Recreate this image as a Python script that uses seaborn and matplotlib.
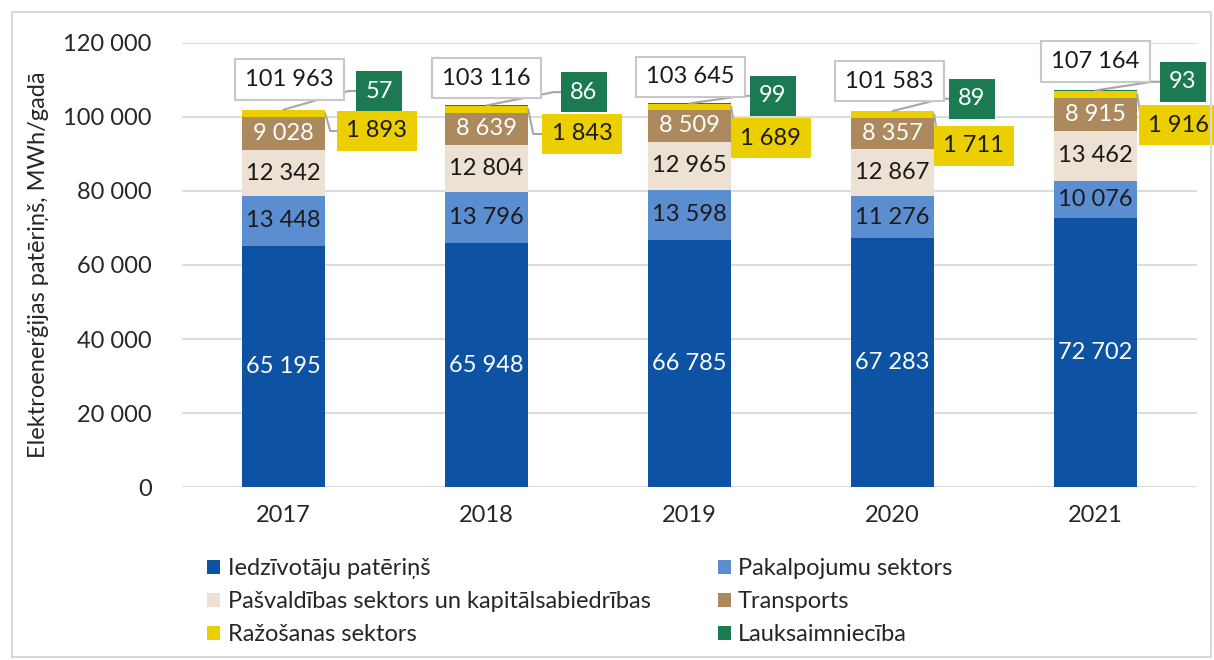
import matplotlib
matplotlib.use("Agg")
import matplotlib.pyplot as plt
from matplotlib.patches import Patch, Rectangle
import numpy as np
import seaborn as sns

# --- data ---
years = ["2017", "2018", "2019", "2020", "2021"]
iedzivotaji = [65195, 65948, 66785, 67283, 72702]
pakalpojumi = [13448, 13796, 13598, 11276, 10076]
pasvaldibas = [12342, 12804, 12965, 12867, 13462]
transports = [9028, 8639, 8509, 8357, 8915]
razosana = [1893, 1843, 1689, 1711, 1916]
lauksaimnieciba = [57, 86, 99, 89, 93]

names = ["Iedzīvotāju patēriņš", "Pakalpojumu sektors",
         "Pašvaldības sektors un kapitālsabiedrības", "Transports",
         "Ražošanas sektors", "Lauksaimniecība"]
colors = ["#0d52a3", "#5b8ed0", "#ede1d4", "#ad8a5e", "#eccf00", "#1b7a52"]
text_colors = ["white", "#1a1a1a", "#1a1a1a", "white"]

# callout label placement (x offset in category units, y in data units)
tot_dx = [0.03, 0.0, 0.005, -0.015, 0.0]
tot_y = [110000, 110500, 110800, 109700, 114900]
grn_dx = [0.47, 0.48, 0.41, 0.39, 0.43]
grn_y = [107000, 106700, 105700, 104900, 109500]
yel_dx = [0.46, 0.47, 0.40, 0.40, 0.41]
yel_y = [96200, 95400, 94300, 92200, 97800]

layers = np.array([iedzivotaji, pakalpojumi, pasvaldibas, transports,
                   razosana, lauksaimnieciba], dtype=float)
cum = layers.cumsum(axis=0)
totals = cum[-1]

def fmt(v):
    return f"{v:,.0f}".replace(",", " ")

sns.set_theme(style="white")
plt.rcParams["font.family"] = ["Lato", "DejaVu Sans"]
FS = 17

fig = plt.figure(figsize=(12.14, 6.6), dpi=100)
ax = fig.add_axes([0.150, 0.262, 0.836, 0.673])

# stacked bars: draw cumulative heights from the top layer down
for k in range(len(names) - 1, -1, -1):
    sns.barplot(x=years, y=cum[k], color=colors[k], width=0.41,
                saturation=1, linewidth=0, edgecolor="none", ax=ax, zorder=2)

ax.set_ylim(0, 120000)
ax.set_xlim(-0.5, 4.5)
ax.set_yticks(np.arange(0, 120001, 20000))
ax.set_yticklabels([fmt(v) for v in np.arange(0, 120001, 20000)], fontsize=FS)
ax.tick_params(axis="x", labelsize=FS, pad=13, length=0)
ax.tick_params(axis="y", pad=22, length=0)
ax.grid(axis="y", color="#d9d9d9", lw=1.3)
ax.set_axisbelow(True)
for s in ax.spines.values():
    s.set_visible(False)
ax.set_xlabel("")
ax.set_ylabel("Elektroenerģijas patēriņš, MWh/gadā", fontsize=FS, labelpad=10)

# labels inside the four big segments
for k in range(4):
    for i in range(len(years)):
        yc = cum[k][i] - layers[k][i] / 2
        ax.text(i, yc, fmt(layers[k][i]), ha="center", va="center",
                fontsize=FS, color=text_colors[k], zorder=4)

line_c = "#a6a6a6"
for i in range(len(years)):
    top = totals[i]
    # total
    ax.text(i + tot_dx[i], tot_y[i], fmt(top), ha="center", va="center",
            fontsize=FS, color="#1a1a1a", zorder=5,
            bbox=dict(boxstyle="square,pad=0.42", fc="white", ec="#c8c8c8", lw=1.5))
    # green callout + leader
    gx = i + grn_dx[i]
    ax.plot([i, gx - 0.15, gx - 0.1], [top, grn_y[i], grn_y[i]],
            color=line_c, lw=1.5, zorder=3)
    ax.text(gx, grn_y[i], fmt(lauksaimnieciba[i]), ha="center", va="center",
            fontsize=FS, color="white", zorder=5,
            bbox=dict(boxstyle="square,pad=0.4", fc=colors[5], ec="none"))
    # yellow callout + leader
    yx = i + yel_dx[i]
    ys = cum[3][i] + razosana[i] / 2
    ax.plot([i + 0.205, i + 0.23, yx - 0.15], [ys, yel_y[i], yel_y[i]],
            color=line_c, lw=1.5, zorder=3)
    ax.text(yx, yel_y[i], fmt(razosana[i]), ha="center", va="center",
            fontsize=FS, color="#1a1a1a", zorder=5,
            bbox=dict(boxstyle="square,pad=0.4", fc=colors[4], ec="none"))

# legend, row-major as in the original
handles = [Patch(facecolor=c, edgecolor="none") for c in colors]
order = [0, 2, 4, 1, 3, 5]
fig.legend([handles[j] for j in order], [names[j] for j in order],
           loc="upper left", bbox_to_anchor=(198 / 1214, 1 - 549 / 660),
           ncol=2, frameon=False, fontsize=FS, handlelength=0.55,
           handleheight=0.55, handletextpad=0.3, labelspacing=0.5,
           columnspacing=2.85, borderaxespad=0)

# outer frame
fig.patches.append(Rectangle((12 / 1214, 3 / 660), 1199 / 1214, 645 / 660,
                             transform=fig.transFigure, fill=False,
                             ec="#d9d9d9", lw=1.5))

fig.savefig("out.png", dpi=100)
